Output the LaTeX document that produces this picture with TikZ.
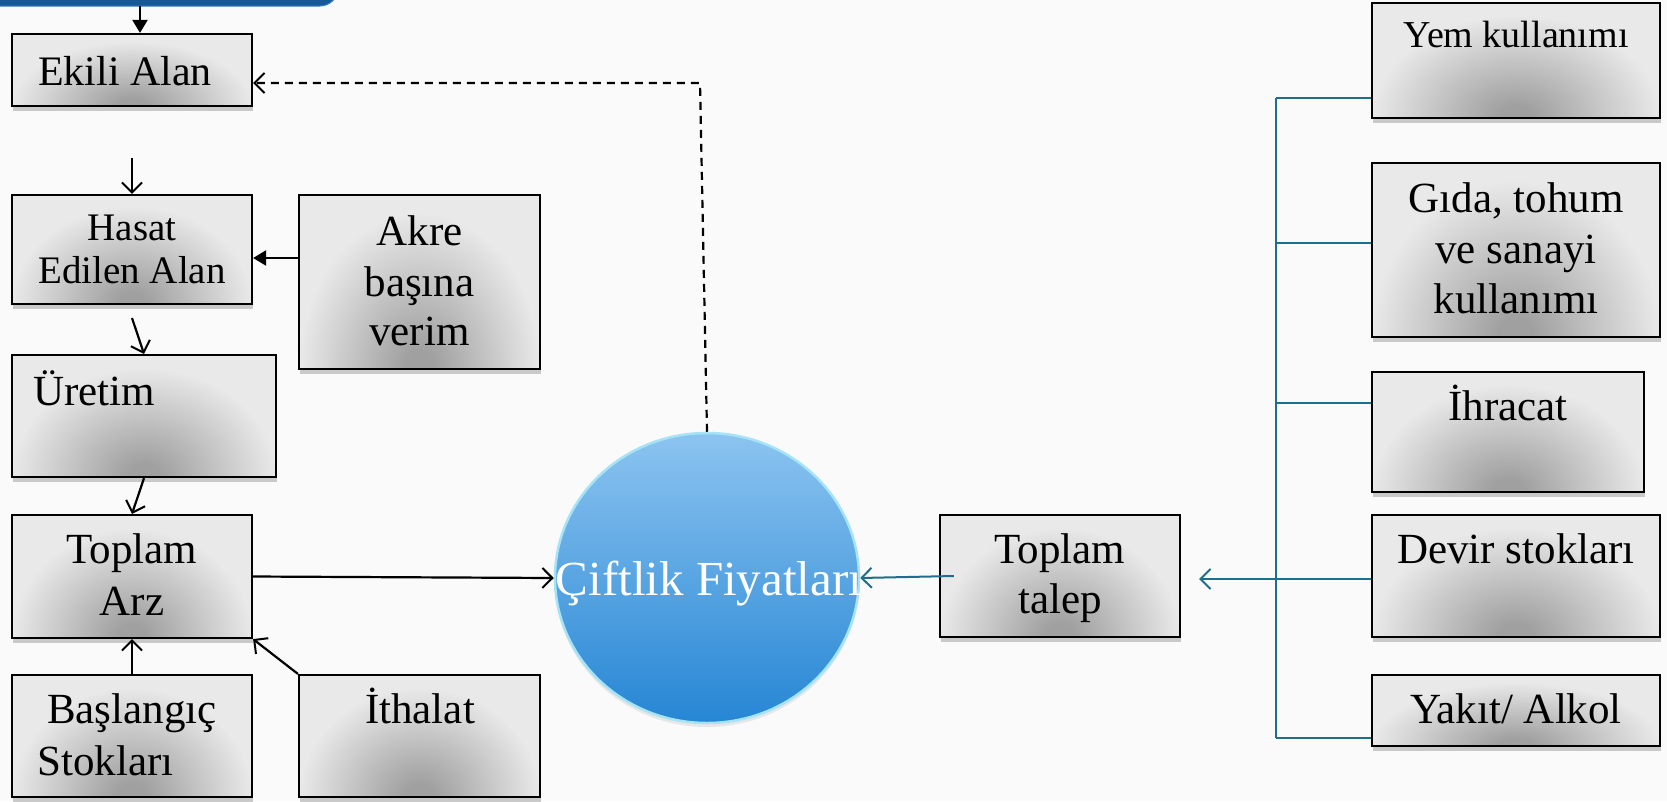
\documentclass[tikz,border=0pt]{standalone}
\usepackage{fontspec}
\setmainfont{Liberation Serif}
\usetikzlibrary{arrows.meta,shadows,calc,shapes.geometric}
\definecolor{bg}{RGB}{250,250,250}
\definecolor{boxlight}{RGB}{233,233,233}
\definecolor{spotdark}{RGB}{160,160,160}
\definecolor{barblue}{RGB}{22,88,152}
\definecolor{tealc}{RGB}{30,110,140}
\definecolor{circtop}{RGB}{140,196,240}
\definecolor{circbot}{RGB}{38,134,212}
\definecolor{circrim}{RGB}{165,228,246}
\pgfdeclareradialshading{boxspot}{\pgfpoint{0bp}{0bp}}{color(0bp)=(spotdark); color(3bp)=(spotdark); color(25bp)=(boxlight); color(50bp)=(boxlight)}
\begin{document}
\begin{tikzpicture}[x=1pt,y=-1pt,
  box/.style={draw=black, line width=2.2pt, fill=boxlight, inner sep=0pt,
    drop shadow={shadow xshift=1pt, shadow yshift=-5pt, opacity=0.4},
    path picture={
      \coordinate (q1) at ($(path picture bounding box.south)!1.0!(path picture bounding box.south west)$);
      \coordinate (q2) at ($(path picture bounding box.south)!1.0!(path picture bounding box.south east)$);
      \coordinate (q3) at ($(path picture bounding box.south)!1.8!(path picture bounding box.center)$);
      \coordinate (q4) at ($(path picture bounding box.south)!-1.8!(path picture bounding box.center)$);
      \shade[shading=boxspot] (q1 |- q4) rectangle (q2 |- q3);}},
  barbox/.style={fill=barblue, draw={rgb,255:red,60;green,130;blue,190}, line width=1pt, rounded corners=18pt, minimum width=360pt, minimum height=40pt, inner sep=0pt},
  lbl/.style={inner sep=0pt, anchor=base, font=\fontsize{43}{50}\selectfont},
  blk/.style={draw=black, line width=2.2pt},
  tl/.style={draw=tealc, line width=2pt},
  openarr/.style={-{Straight Barb[length=10pt,width=20pt,line width=2pt]}},
  fillarr/.style={-{Triangle[length=13pt,width=15pt]}}
]
\useasboundingbox (0,0) rectangle (1667,801);
\fill[bg] (0,0) rectangle (1667,801);
\clip (0,0) rectangle (1667,801);

% top bar
\node[barbox] (bar) at (158,-14) {};
\coordinate (barout) at (140,6);

% boxes
\node[box, minimum width=240pt, minimum height=72pt] (ekili) at (132,70) {};
\node[box, minimum width=240pt, minimum height=109pt] (hasat) at (132,249.5) {};
\node[box, minimum width=241pt, minimum height=174pt] (akre) at (419.5,282) {};
\node[box, minimum width=264pt, minimum height=122pt] (uretim) at (144,416) {};
\node[box, minimum width=240pt, minimum height=123pt] (tarz) at (132,576.5) {};
\node[box, minimum width=240pt, minimum height=122pt] (basl) at (132,736) {};
\node[box, minimum width=241pt, minimum height=122pt] (ithal) at (419.5,736) {};
\node[box, minimum width=240pt, minimum height=122pt] (talep) at (1060,576) {};
\node[box, minimum width=288pt, minimum height=115pt] (yem) at (1516,60.5) {};
\node[box, minimum width=288pt, minimum height=174pt] (gida) at (1516,250) {};
\node[box, minimum width=272pt, minimum height=120pt] (ihr) at (1508,432) {};
\node[box, minimum width=288pt, minimum height=122pt] (devir) at (1516,576) {};
\node[box, minimum width=288pt, minimum height=71pt] (yakit) at (1516,710.5) {};

% circle
\node[ellipse, minimum width=304pt, minimum height=290pt, inner sep=0pt,
      top color=circtop, bottom color=circbot, draw=circrim, line width=2.5pt,
      drop shadow={shadow xshift=0pt, shadow yshift=-4pt, opacity=0.15}] (circ) at (707,578) {};

% texts
\node[lbl, font=\fontsize{42}{50}\selectfont] (tEkili) at (125,85) {Ekili Alan};
\node[lbl, font=\fontsize{39}{46}\selectfont] (tHasat1) at (132,240) {Hasat};
\node[lbl, font=\fontsize{39}{46}\selectfont] (tHasat2) at (132,283) {Edilen Alan};
\node[lbl] (tAkre1) at (419.5,245) {Akre};
\node[lbl] (tAkre2) at (419.5,296) {başına};
\node[lbl] (tAkre3) at (419.5,345) {verim};
\node[lbl, anchor=base west] (tUretim) at (33,405) {Üretim};
\node[lbl] (tTarz1) at (132,563) {Toplam};
\node[lbl] (tTarz2) at (132,615) {Arz};
\node[lbl] (tBasl1) at (132,723) {Başlangıç};
\node[lbl, anchor=base west] (tBasl2) at (37,775) {Stokları};
\node[lbl] (tIthal) at (420,723) {İthalat};
\node[lbl] (tTalep1) at (1060,563) {Toplam};
\node[lbl] (tTalep2) at (1060,613) {talep};
\node[lbl, font=\fontsize{38}{45}\selectfont] (tYem) at (1516,47) {Yem kullanımı};
\node[lbl] (tGida1) at (1516,212) {Gıda, tohum};
\node[lbl] (tGida2) at (1516,263) {ve sanayi};
\node[lbl] (tGida3) at (1516,313) {kullanımı};
\node[lbl] (tIhr) at (1508,420) {İhracat};
\node[lbl] (tDevir) at (1516,563) {Devir stokları};
\node[lbl] (tYakit) at (1516,723) {Yakıt/ Alkol};
\node[lbl, font=\fontsize{49}{56}\selectfont, text=white] (tCirc) at (709,595) {Çiftlik Fiyatları};

% connectors (left)
\draw[blk, fillarr] (barout) -- (barout |- ekili.north);
\coordinate (dc) at (700,83);
\draw[blk, dash pattern=on 8pt off 6pt, openarr] (circ.north) -- (dc) -- (dc -| ekili.east);
\coordinate (hin) at (132,158);
\draw[blk, openarr] (hin) -- (hasat.north);
\coordinate (aout) at ([yshift=24pt]akre.west);
\draw[blk, fillarr] (aout) -- (aout -| hasat.east);
\coordinate (hout) at (132,318);
\draw[blk, openarr] (hout) -- (uretim.north);
\draw[blk, openarr] (uretim.south) -- (tarz.north);
\draw[blk, openarr] (tarz.east) -- (circ.west);
\draw[blk, openarr] (basl.north) -- (tarz.south);
\draw[blk, openarr] (ithal.north west) -- (tarz.south east);

% connectors (right)
\draw[tl, openarr] ([xshift=15pt]talep.west) -- (circ.east);
\coordinate (b1) at (1276,98);
\coordinate (b2) at (1276,243);
\coordinate (b3) at (1276,403);
\coordinate (b4) at (1276,579);
\coordinate (b5) at (1276,738);
\draw[tl] (b1) -- (b5);
\draw[tl] (b1) -- (b1 -| yem.west);
\draw[tl] (b2) -- (b2 -| gida.west);
\draw[tl] (b3) -- (b3 -| ihr.west);
\draw[tl] (b5) -- (b5 -| yakit.west);
\coordinate (tin) at ([xshift=18pt]talep.east);
\draw[tl, openarr] (b4 -| devir.west) -- (tin |- b4);
\end{tikzpicture}
\end{document}
